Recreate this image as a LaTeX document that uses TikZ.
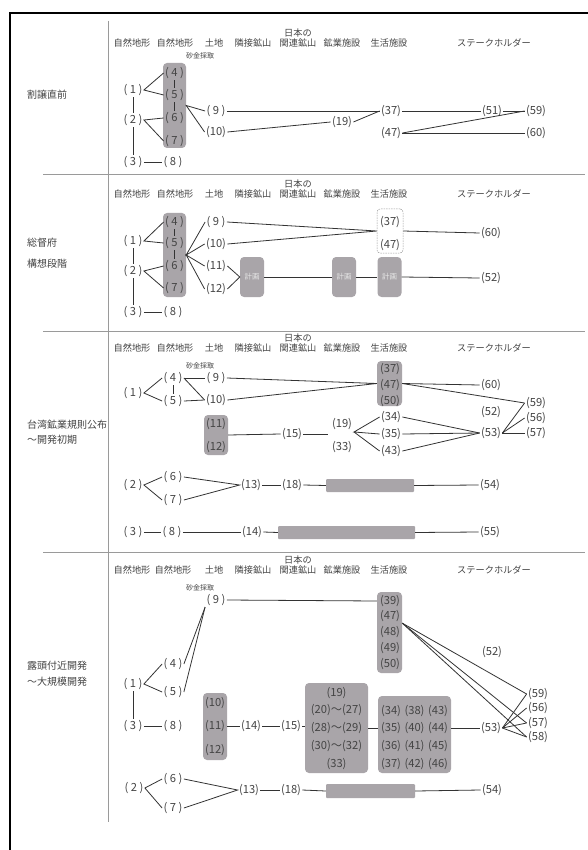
\documentclass[tikz,border=0pt]{standalone}
\usepackage{fontspec}
\setmainfont{Noto Sans CJK JP}
\definecolor{boxc}{HTML}{A9A5A9}
\definecolor{txtc}{HTML}{444444}
\definecolor{linec}{HTML}{333333}
\definecolor{divc}{HTML}{9A9A9A}
\definecolor{plantxt}{HTML}{E6E6E6}
\newcommand\sgl[1]{(\hspace{2.6pt}#1\hspace{2.6pt})}
\newcommand\hdrrow[3]{%
 \node[hd] (#1h1) at (132,#2) {自然地形};
 \node[hd] (#1h2) at (#3,#2) {自然地形};
 \node[hd] (#1h3) at (214,#2) {土地};
 \node[hd] (#1h4) at (253,#2) {隣接鉱山};
 \node[hd] (#1h5) at (298,#2-5) {日本の\\関連鉱山};
 \node[hd] (#1h6) at (342,#2) {鉱業施設};
 \node[hd] (#1h7) at (389,#2) {生活施設};
 \node[hd] (#1h8) at (494,#2) {ステークホルダー};
}
\begin{document}
\begin{tikzpicture}[x=1pt,y=-1pt,
  num/.style={font=\fontsize{11.2}{12}\selectfont, text=txtc, inner sep=1.2pt},
  hd/.style={font=\fontsize{9.2}{10}\selectfont, text=txtc, inner sep=0pt, align=center},
  sub/.style={font=\fontsize{7}{7}\selectfont, text=txtc, inner sep=0pt},
  sec/.style={text=txtc, inner sep=0pt, anchor=west, align=left},
  gbox/.style={fill=boxc, rounded corners=4pt, inner sep=0pt},
  plan/.style={gbox, minimum width=24, minimum height=40, font=\fontsize{7.5}{8}\selectfont, text=plantxt},
  bar/.style={fill=boxc, rounded corners=1pt, inner sep=0pt, minimum height=13},
  ln/.style={draw=linec, line width=0.8pt},
  dv/.style={draw=divc, line width=1pt}]
\useasboundingbox (0,0) rectangle (588,850);
\fill[white] (0,0) rectangle (588,850);
% frame
\draw[line width=2pt, black] (10,850) -- (10,13) -- (588,13);
% dividers
\draw[dv] (108.5,21) -- (108.5,822);
\draw[dv] (43,175) -- (585,175);
\draw[dv] (43,331) -- (585,331);
\draw[dv] (43,552) -- (585,552);

%================ Section 1
\node[sec, font=\fontsize{10}{12}\selectfont] (l1) at (27,95) {割譲直前};
\hdrrow{s1}{43}{175}
\node[sub] (s1sub) at (200,56) {砂金採取};
\node[gbox, minimum width=23, minimum height=85] (b1) at (174.5,105.5) {};
\node[num] (a1) at (133,90) {\sgl{1}};
\node[num] (a2) at (133,120) {\sgl{2}};
\node[num] (a3) at (133,162) {\sgl{3}};
\node[num] (a8) at (173,162) {\sgl{8}};
\node[num] (a4) at (174.5,73) {\sgl{4}};
\node[num] (a5) at (174.5,95) {\sgl{5}};
\node[num] (a6) at (174.5,118) {\sgl{6}};
\node[num] (a7) at (174.5,141) {\sgl{7}};
\node[num] (a9) at (216,111) {\sgl{9}};
\node[num] (a10) at (216,132) {(10)};
\node[num] (a19) at (342,122) {(19)};
\node[num] (a37) at (391,111) {(37)};
\node[num] (a47) at (391,133) {(47)};
\node[num] (a51) at (492,111) {(51)};
\node[num] (a59) at (536,111) {(59)};
\node[num] (a60) at (536,133) {(60)};
\draw[ln] (a1.south) -- (a2.north);
\draw[ln] (a2.south) -- (a3.north);
\draw[ln] (a3.east) -- (a8.west);
\draw[ln] (a4.west) -- (a1.east) -- (a5.west);
\draw[ln] (a6.west) -- (a2.east) -- (a7.west);
\draw[ln] (a4.south) -- (a5.north);
\draw[ln] (a5.south) -- (a6.north);
\draw[ln] (a9.west) -- (b1.east) -- (a10.west);
\draw[ln] (a9.east) -- (a37.west);
\draw[ln] (a10.east) -- (a19.west);
\draw[ln] (a19.east) -- (a37.west);
\draw[ln] (a37.east) -- (a51.west);
\draw[ln] (a51.east) -- (a59.west);
\draw[ln] (a47.east) -- (a59.west);
\draw[ln] (a47.east) -- (a60.west);

%================ Section 2
\node[sec, font=\fontsize{10}{21}\selectfont] (l2) at (27,253.5) {総督府\\構想段階};
\hdrrow{s2}{194}{175}
\node[gbox, minimum width=23, minimum height=84] (b2) at (174.5,255) {};
\node[plan] (p1) at (252,277) {計画};
\node[plan] (p2) at (344,277) {計画};
\node[plan] (p3) at (389.5,277) {計画};
\node[draw=divc, dash pattern=on 1.5pt off 1pt, line width=0.5pt, rounded corners=3pt, minimum width=26, minimum height=44, inner sep=0pt] (d2) at (390,231) {};
\node[num] (c1) at (133,241) {\sgl{1}};
\node[num] (c2) at (133,271) {\sgl{2}};
\node[num] (c3) at (133,312) {\sgl{3}};
\node[num] (c8) at (173,312) {\sgl{8}};
\node[num] (c4) at (174.5,222) {\sgl{4}};
\node[num] (c5) at (174.5,243) {\sgl{5}};
\node[num] (c6) at (174.5,266) {\sgl{6}};
\node[num] (c7) at (174.5,288) {\sgl{7}};
\node[num] (c9) at (216,222) {\sgl{9}};
\node[num] (c10) at (216,244) {(10)};
\node[num] (c11) at (216,266) {(11)};
\node[num] (c12) at (216,289) {(12)};
\node[num] (c37) at (390,222) {(37)};
\node[num] (c47) at (390,245) {(47)};
\node[num] (c60) at (491,233) {(60)};
\node[num] (c52) at (491,278) {(52)};
\draw[ln] (c1.south) -- (c2.north);
\draw[ln] (c2.south) -- (c3.north);
\draw[ln] (c3.east) -- (c8.west);
\draw[ln] (c4.west) -- (c1.east) -- (c5.west);
\draw[ln] (c6.west) -- (c2.east) -- (c7.west);
\draw[ln] (c4.south) -- (c5.north);
\draw[ln] (c5.south) -- (c6.north);
\draw[ln] (c9.west) -- (b2.east) -- (c10.west);
\draw[ln] (c11.west) -- (b2.east) -- (c12.west);
\draw[ln] (c11.east) -- (p1.west) -- (c12.east);
\draw[ln] (p1.east) -- (p2.west);
\draw[ln] (p2.east) -- (p3.west);
\draw[ln] (p3.east) -- (c52.west);
\draw[ln] (c9.east) -- (d2.west) -- (c10.east);
\draw[ln] (d2.east) -- (c60.west);

%================ Section 3
\node[sec, font=\fontsize{10}{15}\selectfont] (l3) at (27,432.5) {台湾鉱業規則公布\\～開発初期};
\hdrrow{s3}{348}{175}
\node[sub] (s3sub) at (200,366) {砂金採取};
\node[gbox, minimum width=25, minimum height=45] (b3a) at (389.5,383.5) {};
\node[gbox, minimum width=24, minimum height=40] (b3b) at (216,435) {};
\node[bar, minimum width=88] (bar1) at (370,485.5) {};
\node[bar, minimum width=137] (bar2) at (346.5,532.5) {};
\node[num] (e1) at (133,393) {\sgl{1}};
\node[num] (e4) at (173,378) {\sgl{4}};
\node[num] (e5) at (173,401) {\sgl{5}};
\node[num] (e9) at (216,378) {\sgl{9}};
\node[num] (e10) at (216,400) {(10)};
\node[num] (e37) at (390,369) {(37)};
\node[num] (e47) at (390,385) {(47)};
\node[num] (e50) at (390,401) {(50)};
\node[num] (e60) at (491,385) {(60)};
\node[num] (e52) at (491,412) {(52)};
\node[num] (e53) at (491,433) {(53)};
\node[num] (e59) at (536,403) {(59)};
\node[num] (e56) at (536,418) {(56)};
\node[num] (e57) at (536,433) {(57)};
\node[num] (e11) at (216,424) {(11)};
\node[num] (e12) at (216,447) {(12)};
\node[num] (e15) at (292,434) {(15)};
\coordinate (g1) at (328,434);
\coordinate (g2) at (354,432);
\node[num] (e19) at (342,424) {(19)};
\node[num] (e33) at (342,447) {(33)};
\node[num] (e34) at (391,417) {(34)};
\node[num] (e35) at (391,434) {(35)};
\node[num] (e43) at (391,451) {(43)};
\node[num] (e2) at (133,485) {\sgl{2}};
\node[num] (e6) at (173,477) {\sgl{6}};
\node[num] (e7) at (173,500) {\sgl{7}};
\node[num] (e13) at (251,485) {(13)};
\node[num] (e18) at (292,485) {(18)};
\node[num] (e54) at (490,485) {(54)};
\node[num] (e3) at (133,532) {\sgl{3}};
\node[num] (e8) at (172,532) {\sgl{8}};
\node[num] (e14) at (252,532) {(14)};
\node[num] (e55) at (490,532) {(55)};
\draw[ln] (e4.west) -- (e1.east) -- (e5.west);
\draw[ln] (e4.south) -- (e5.north);
\draw[ln] (e4.east) -- (e9.west);
\draw[ln] (e4.east) -- (e10.west);
\draw[ln] (e5.east) -- (e10.west);
\draw[ln] (e9.east) -- (b3a.west) -- (e10.east);
\draw[ln] (b3a.east) -- (e60.west);
\draw[ln] (b3a.east) -- (e59.west);
\draw[ln] (b3b.east) -- (e15.west);
\draw[ln] (e15.east) -- (g1);
\draw[ln] (e34.west) -- (g2) -- (e35.west);
\draw[ln] (g2) -- (e43.west);
\draw[ln] (e34.east) -- (e53.west);
\draw[ln] (e35.east) -- (e53.west);
\draw[ln] (e43.east) -- (e53.west);
\draw[ln] (e53.east) -- (e59.west);
\draw[ln] (e53.east) -- (e56.west);
\draw[ln] (e53.east) -- (e57.west);
\draw[ln] (e6.west) -- (e2.east) -- (e7.west);
\draw[ln] (e6.east) -- (e13.west) -- (e7.east);
\draw[ln] (e13.east) -- (e18.west);
\draw[ln] (e18.east) -- (bar1.west);
\draw[ln] (bar1.east) -- (e54.west);
\draw[ln] (e3.east) -- (e8.west);
\draw[ln] (e8.east) -- (e14.west);
\draw[ln] (e14.east) -- (bar2.west);
\draw[ln] (bar2.east) -- (e55.west);

%================ Section 4
\node[sec, font=\fontsize{10}{16}\selectfont] (l4) at (27,674) {露頭付近開発\\～大規模開発};
\hdrrow{s4}{570}{173}
\node[sub] (s4sub) at (200,588) {砂金採取};
\node[gbox, minimum width=25, minimum height=81] (b4a) at (389.5,632.5) {};
\node[gbox, minimum width=24, minimum height=67] (b4b) at (215,726.5) {};
\node[gbox, minimum width=63, minimum height=90] (b4c) at (336.5,728) {};
\node[gbox, minimum width=73, minimum height=77] (b4d) at (414.5,734.5) {};
\node[bar, minimum width=89, minimum height=14] (bar3) at (370.5,791) {};
\node[num] (f9) at (216,600) {\sgl{9}};
\node[num] (f39) at (390,601) {(39)};
\node[num] (f47) at (390,616) {(47)};
\node[num] (f48) at (390,632) {(48)};
\node[num] (f49) at (390,648) {(49)};
\node[num] (f50) at (390,664) {(50)};
\node[num] (f52) at (492,652) {(52)};
\node[num] (f1) at (133,684) {\sgl{1}};
\node[num] (f4) at (173,664) {\sgl{4}};
\node[num] (f5) at (173,692) {\sgl{5}};
\node[num] (f3) at (133,726) {\sgl{3}};
\node[num] (f8) at (173,726) {\sgl{8}};
\node[num] (f10) at (215,703) {(10)};
\node[num] (f11) at (215,726) {(11)};
\node[num] (f12) at (215,750) {(12)};
\node[num] (f14) at (251,726) {(14)};
\node[num] (f15) at (291,726) {(15)};
\node[num] (f19) at (336.5,693) {(19)};
\node[num] (f20) at (336.5,710) {(20)～(27)};
\node[num] (f28) at (336.5,728) {(28)～(29)};
\node[num] (f30) at (336.5,746) {(30)～(32)};
\node[num] (f33) at (336.5,764) {(33)};
\node[num] (f34) at (391,711) {(34)};
\node[num] (f38) at (414.5,711) {(38)};
\node[num] (f43) at (438,711) {(43)};
\node[num] (f35) at (391,728) {(35)};
\node[num] (f40) at (414.5,728) {(40)};
\node[num] (f44) at (438,728) {(44)};
\node[num] (f36) at (391,746) {(36)};
\node[num] (f41) at (414.5,746) {(41)};
\node[num] (f45) at (438,746) {(45)};
\node[num] (f37) at (391,764) {(37)};
\node[num] (f42) at (414.5,764) {(42)};
\node[num] (f46) at (438,764) {(46)};
\node[num] (f53) at (491,728) {(53)};
\node[num] (f59) at (538,694) {(59)};
\node[num] (f56) at (538,708) {(56)};
\node[num] (f57) at (538,723) {(57)};
\node[num] (f58) at (538,737) {(58)};
\node[num] (f2) at (134,788) {\sgl{2}};
\node[num] (f6) at (173,779) {\sgl{6}};
\node[num] (f7) at (173,808) {\sgl{7}};
\node[num] (f13) at (249,790) {(13)};
\node[num] (f18) at (291,790) {(18)};
\node[num] (f54) at (492,790) {(54)};
\draw[ln] (f9.east) -- (f39.west -| b4a.west);
\draw[ln] (f4.west) -- (f1.east) -- (f5.west);
\draw[ln] (f4.east) -- (f9.south west);
\draw[ln] (f5.east) -- (f9.south west);
\draw[ln] (f1.south) -- (f3.north);
\draw[ln] (f3.east) -- (f8.west);
\draw[ln] (f11.east -| b4b.east) -- (f14.west);
\draw[ln] (f14.east) -- (f15.west);
\draw[ln] (f15.east) -- (f15.east -| b4c.west);
\draw[ln] (f28.east -| b4c.east) -- (f35.west -| b4d.west);
\draw[ln] (f53.west -| b4d.east) -- (f53.west);
\draw[ln] (f47.south east -| b4a.east) -- (f59.west);
\draw[ln] (f47.south east -| b4a.east) -- (f57.west);
\draw[ln] (f47.south east -| b4a.east) -- (f58.west);
\draw[ln] (f53.east) -- (f59.west);
\draw[ln] (f53.east) -- (f56.west);
\draw[ln] (f53.east) -- (f57.west);
\draw[ln] (f53.east) -- (f58.west);
\draw[ln] (f6.west) -- (f2.east) -- (f7.west);
\draw[ln] (f6.east) -- (f13.west) -- (f7.east);
\draw[ln] (f13.east) -- (f18.west);
\draw[ln] (f18.east) -- (bar3.west);
\draw[ln] (bar3.east) -- (f54.west);
\end{tikzpicture}
\end{document}
